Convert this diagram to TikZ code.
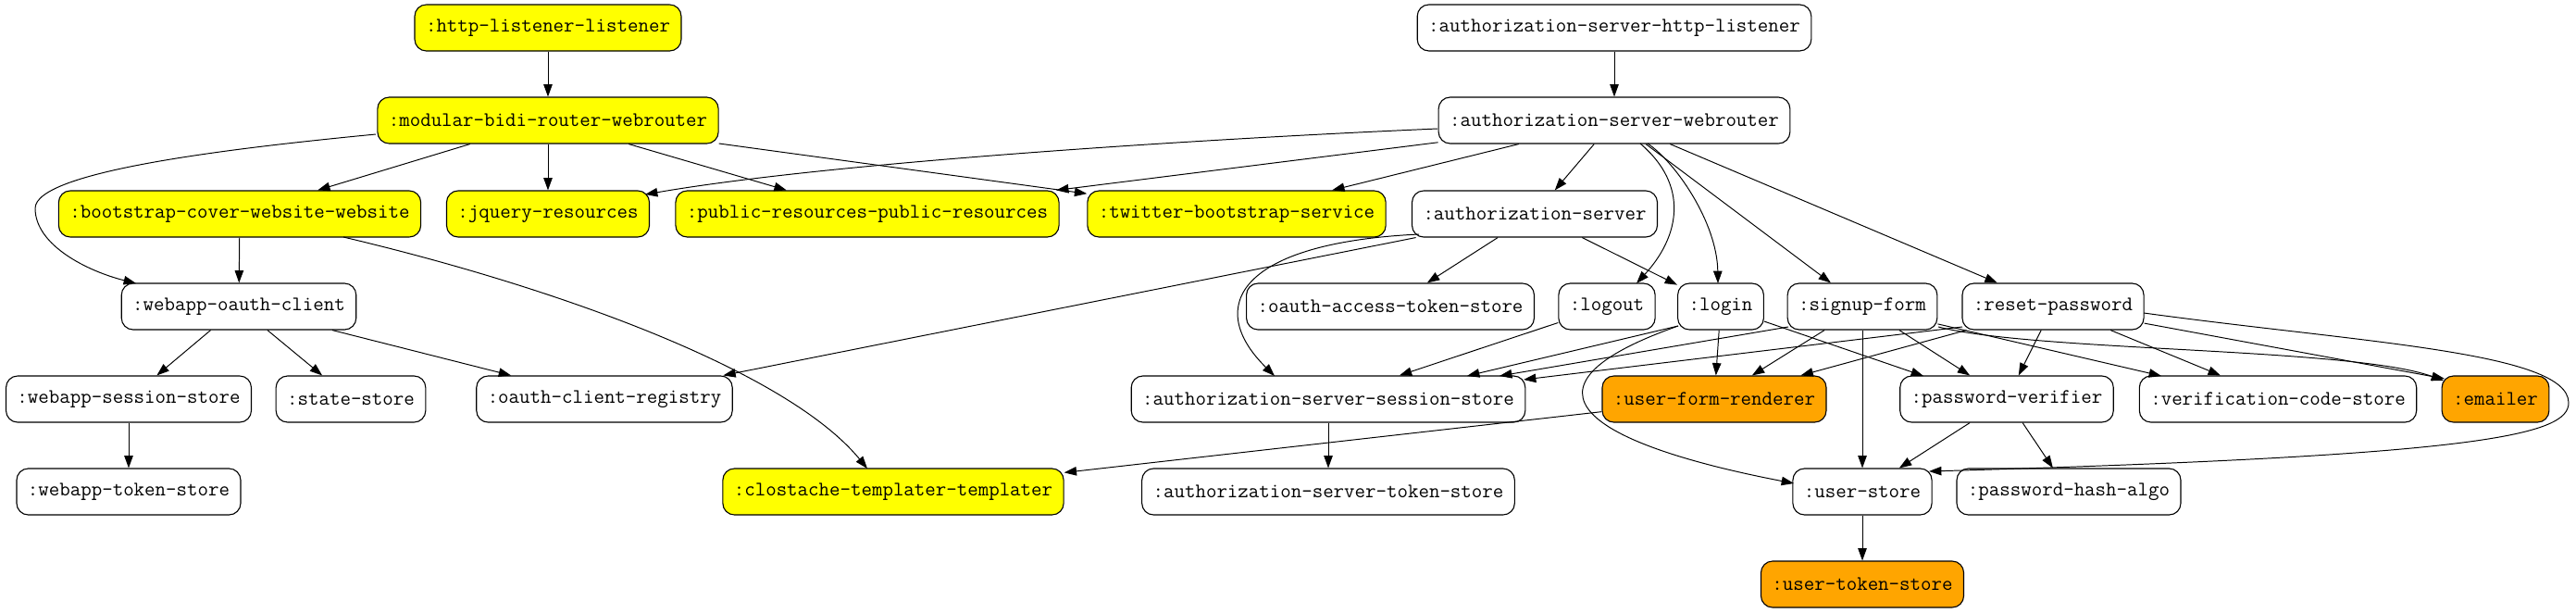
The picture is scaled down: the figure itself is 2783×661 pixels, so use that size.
\documentclass[tikz,border=0pt]{standalone}
\usepackage{fontspec}
\usepackage{tikz}
\usetikzlibrary{arrows.meta, calc}
\definecolor{gvorange}{HTML}{FFA500}
\definecolor{gvyellow}{HTML}{FFFF00}

\begin{document}
\begin{tikzpicture}[
  x=0.718pt, y=-0.718pt,
  comp/.style={rectangle, draw=black, fill=white, rounded corners=9pt, line width=0.8pt, inner xsep=8.6pt, inner ysep=0pt, minimum height=35.9pt, font=\ttfamily\fontsize{16pt}{18pt}\selectfont},
  lib/.style={comp, fill=gvyellow},
  ext/.style={comp, fill=gvorange},
  arr/.style={-{Triangle[length=9.6pt,width=6.8pt]}, line width=0.7pt},
]
\useasboundingbox (0,0) rectangle (2783,661);

%% Web app side
\node[lib]  (httpl)   at (592,30)   {:http-listener-listener};
\node[lib]  (modrt)   at (592,130)  {:modular-bidi-router-webrouter};
\node[lib]  (bootw)   at (259,231)  {:bootstrap-cover-website-website};
\node[lib]  (jquery)  at (592,231)  {:jquery-resources};
\node[lib]  (pubres)  at (937,231)  {:public-resources-public-resources};
\node[lib]  (twitter) at (1336,231) {:twitter-bootstrap-service};
\node[comp] (oauthcl) at (258,331)  {:webapp-oauth-client};
\node[comp] (wsess)   at (139,431)  {:webapp-session-store};
\node[comp] (state)   at (379,431)  {:state-store};
\node[comp] (ocreg)   at (653,431)  {:oauth-client-registry};
\node[comp] (wtok)    at (139,531)  {:webapp-token-store};
\node[lib]  (clost)   at (965,531)  {:clostache-templater-templater};

%% Authorization server side
\node[comp] (ashttp)  at (1744,30)  {:authorization-server-http-listener};
\node[comp] (asrt)    at (1744,130) {:authorization-server-webrouter};
\node[comp] (authsrv) at (1658,231) {:authorization-server};
\node[comp] (oatok)   at (1502,331) {:oauth-access-token-store};
\node[comp] (logout)  at (1736,331) {:logout};
\node[comp] (login)   at (1859,331) {:login};
\node[comp] (signup)  at (2012,331) {:signup-form};
\node[comp] (reset)   at (2218,331) {:reset-password};
\node[comp] (assess)  at (1435,431) {:authorization-server-session-store};
\node[ext]  (ufr)     at (1852,431) {:user-form-renderer};
\node[comp] (pwver)   at (2168,431) {:password-verifier};
\node[comp] (vcode)   at (2461,431) {:verification-code-store};
\node[ext]  (emailer) at (2696,431) {:emailer};
\node[comp] (astok)   at (1435,531) {:authorization-server-token-store};
\node[comp] (ustore)  at (2012,531) {:user-store};
\node[comp] (pwhash)  at (2235,531) {:password-hash-algo};
\node[ext]  (utok)    at (2012,631) {:user-token-store};

%% Web app router
\draw[arr] (httpl) -- (modrt);
\draw[arr] (modrt) -- (bootw);
\draw[arr] (modrt) -- (jquery);
\draw[arr] (modrt) -- (pubres);
\draw[arr] (modrt) -- (twitter);
\draw[arr] ($(modrt)+(-186,15)$) .. controls (250,160) and (38,185) .. (38,225)
  .. controls (38,265) and (95,293) .. ($(oauthcl)+(-111,-25)$);
\draw[arr] (bootw) -- (oauthcl);
\draw[arr] ($(bootw)+(112,25)$) .. controls (600,310) and (850,400) .. ($(clost)+(-28,-25)$);
\draw[arr] (oauthcl) -- (wsess);
\draw[arr] (oauthcl) -- (state);
\draw[arr] (oauthcl) -- (ocreg);
\draw[arr] (wsess) -- (wtok);

%% Authorization server router
\draw[arr] (ashttp) -- (asrt);
\draw[arr] ($(asrt)+(-191,9)$) .. controls (1300,150) and (900,175) .. ($(jquery)+(105,-21)$);
\draw[arr] (asrt) -- (pubres);
\draw[arr] (asrt) -- (twitter);
\draw[arr] (asrt) -- (authsrv);
\draw[arr] ($(asrt)+(28,25)$) .. controls (1825,200) and (1815,255) .. ($(logout)+(32,-25)$);
\draw[arr] ($(asrt)+(36,25)$) .. controls (1810,175) and (1855,240) .. ($(login)+(-3,-25)$);
\draw[arr] (asrt) -- (signup);
\draw[arr] (asrt) -- (reset);

%% Authorization server
\draw[arr] (authsrv) -- (oatok);
\draw[arr] (authsrv) -- (login);
\draw[arr] (authsrv) -- (ocreg);
\draw[arr] ($(authsrv)+(-125,22)$) .. controls (1340,262) and (1300,330) .. ($(assess)+(-58,-25)$);

%% Forms
\draw[arr] (logout) -- (assess);
\draw[arr] ($(login)+(-46,21)$) -- ($(assess)+(150,-25)$);
\draw[arr] (login) -- (ufr);
\draw[arr] (login) -- ($(pwver)+(-90,-25)$);
\draw[arr] ($(login)+(-46,21)$) .. controls (1620,420) and (1720,480) .. ($(ustore)+(-74,-9)$);

\draw[arr] ($(signup)+(-80,22)$) -- ($(assess)+(185,-25)$);
\draw[arr] (signup) -- (ufr);
\draw[arr] (signup) -- (ustore);
\draw[arr] (signup) -- (pwver);
\draw[arr] (signup) -- ($(vcode)+(-126,-25)$);
\draw[arr] ($(signup)+(82,22)$) .. controls (2200,380) and (2540,375) .. ($(emailer)+(-56,-20)$);

\draw[arr] ($(reset)+(-98,22)$) -- ($(assess)+(211,-21)$);
\draw[arr] (reset) -- (ufr);
\draw[arr] (reset) -- (pwver);
\draw[arr] (reset) -- (vcode);
\draw[arr] (reset) -- ($(emailer)+(-55,-22)$);
\draw[arr] ($(reset)+(98,7)$) .. controls (2550,370) and (2775,380) .. (2775,435)
  .. controls (2775,470) and (2680,492) .. ($(ustore)+(72,-22)$);

%% Stores
\draw[arr] (ufr) -- (clost);
\draw[arr] (assess) -- (astok);
\draw[arr] (pwver) -- (ustore);
\draw[arr] (pwver) -- (pwhash);
\draw[arr] (ustore) -- (utok);
\end{tikzpicture}
\end{document}
